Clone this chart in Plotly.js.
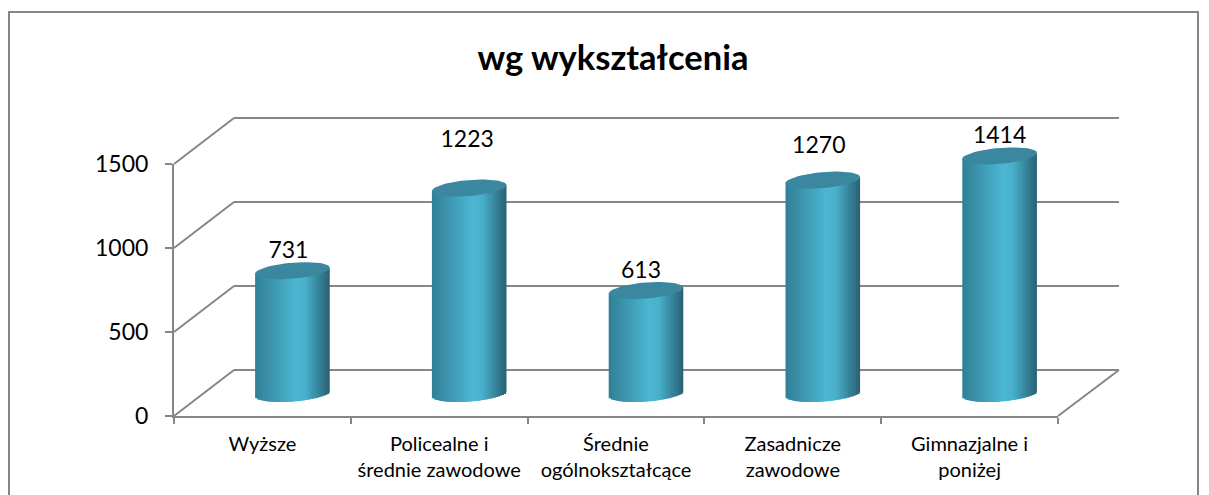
<!DOCTYPE html>
<html><head><meta charset="utf-8">
<script src="https://cdn.plot.ly/plotly-3.0.1.min.js"></script>
<style>html,body{margin:0;padding:0;background:#fff;overflow:hidden}</style>
</head><body><div id="chart" style="width:1209px;height:495px"></div>
<script>
const categories = ["Wyższe","Policealne i<br>średnie zawodowe","Średnie<br>ogólnokształcące","Zasadnicze<br>zawodowe","Gimnazjalne i<br>poniżej"];
const values = [731,1223,613,1270,1414];
const labelShiftPx = [18,47,18.5,33,19];
const labelShiftXPx = [-4,-2,-5,-4,0];
const gridLevels = [0,500,1000,1500];
const chartTitle = "wg wykształcenia";

const W=1209,H=495,GRAY='#868686',FONT='Lato, Carlito, Calibri, sans-serif';
const front={l:174,r:1058,b:416,t:164}, back={l:234,r:1119,b:370,t:118};
const mid={l:204,r:1088,b:393.5};
const K=(front.b-front.t)/1500;            // px per unit
const yLo=-100,yHi=1600;
const dx=v=>v/W, dy=v=>1-v/H;
const stepPx=(mid.r-mid.l)/categories.length;

// cylinder geometry (px)
const A=37.3,B=8,TILT=3,STRIP=2;
const ramp=[[0,[48,130,152]],[0.12,[56,140,164]],[0.3,[64,158,183]],[0.55,[77,182,210]],[0.68,[72,176,203]],[0.85,[55,135,158]],[1,[44,100,118]]];
function colorAt(f){for(let i=1;i<ramp.length;i++){if(f<=ramp[i][0]){const a=ramp[i-1],b=ramp[i],t=(f-a[0])/(b[0]-a[0]);return 'rgb('+a[1].map((c,k)=>Math.round(c+(b[1][k]-c)*t)).join(',')+')';}}return 'rgb(44,100,118)';}

const traces=[];
traces.push({type:'scatter',x:categories,y:values,mode:'none',xaxis:'x',yaxis:'y',showlegend:false,hoverinfo:'skip'});
traces.push({type:'scatter',x:[0],y:[0],mode:'none',xaxis:'x2',yaxis:'y2',showlegend:false,hoverinfo:'skip'});

const n=Math.round(2*A/STRIP);
const idx=categories.map((_,i)=>i);
for(let s=0;s<n;s++){
  const w=2*A/n, pxL=-A+s*w, u=(pxL+w/2)/A;
  const tilt=u*TILT, low=B*Math.sqrt(Math.max(0,1-u*u));
  const basePx=tilt-low;
  const isLast=s===n-1;
  traces.push({type:'bar',x:idx,y:values.map(v=>v+tilt/K-basePx/K),base:values.map(()=>basePx/K),
    width:(isLast?w:w+1.5)/stepPx,offset:pxL/stepPx,marker:{color:colorAt(s/(n-1)),line:{width:0}},
    xaxis:'x3',yaxis:'y3',showlegend:false,hoverinfo:'skip'});
}
values.forEach((v,i)=>{
  const xs=[],ys=[];
  for(let d=0;d<=360;d+=6){const t=d*Math.PI/180,u=Math.cos(t);
    xs.push(i+A*u/stepPx);ys.push(v+(u*TILT+B*Math.sin(t))/K);}
  traces.push({type:'scatter',x:xs,y:ys,mode:'lines',line:{width:0},fill:'toself',fillcolor:'#3b87a0',
    xaxis:'x3',yaxis:'y3',showlegend:false,hoverinfo:'skip'});
});
traces.push({type:'scatter',mode:'text',x:idx.map(i=>i+labelShiftXPx[i]/stepPx),y:values.map((v,i)=>v+labelShiftPx[i]/K),
  text:values.map(String),textposition:'middle center',textfont:{family:FONT,size:23,color:'#000'},cliponaxis:false,
  xaxis:'x3',yaxis:'y3',showlegend:false,hoverinfo:'skip'});

const shapes=[{type:'rect',xref:'paper',yref:'paper',x0:dx(9),x1:dx(1198),y0:dy(12),y1:dy(520),line:{color:GRAY,width:2},fillcolor:'rgba(0,0,0,0)',layer:'below'}];
gridLevels.forEach(v=>{
  shapes.push({type:'line',xref:'paper',yref:'paper',x0:dx(front.l),y0:dy(front.b-v*K),x1:dx(back.l),y1:dy(back.b-v*K),line:{color:GRAY,width:2},layer:'below'});
});
shapes.push({type:'line',xref:'paper',yref:'paper',x0:dx(front.r),y0:dy(front.b),x1:dx(back.r),y1:dy(back.b),line:{color:GRAY,width:2},layer:'below'});

const layout={
  width:W,height:H,margin:{l:0,r:0,t:0,b:0},paper_bgcolor:'#fff',plot_bgcolor:'rgba(0,0,0,0)',barmode:'overlay',showlegend:false,
  title:{text:'<b>'+chartTitle+'</b>',x:613/W,xanchor:'center',y:1-58/H,yanchor:'middle',font:{family:FONT,size:34.5,color:'#000'}},
  xaxis:{type:'category',categoryorder:'array',categoryarray:categories,range:[-0.5,4.5],domain:[dx(front.l),dx(front.r)],anchor:'y',tickson:'boundaries',ticks:'outside',ticklen:6,tickwidth:2,tickcolor:GRAY,
    showline:true,linecolor:GRAY,linewidth:2,showgrid:false,tickfont:{family:FONT,size:20,color:'#000'},tickangle:0,automargin:false,ticklabelstandoff:9},
  yaxis:{domain:[dy(front.b),dy(front.t)],range:[0,1500],anchor:'x',tickvals:gridLevels,ticks:'outside',ticklen:7,tickwidth:2,tickcolor:GRAY,
    showline:true,linecolor:GRAY,linewidth:2,showgrid:false,zeroline:false,tickfont:{family:FONT,size:23,color:'#000'},automargin:false,ticklabelstandoff:12},
  xaxis2:{domain:[dx(back.l),dx(back.r)],range:[0,1],anchor:'y2',showgrid:false,zeroline:false,showline:false,ticks:'',showticklabels:false},
  yaxis2:{domain:[dy(back.b-yLo*K),dy(back.b-yHi*K)],range:[yLo,yHi],anchor:'x2',tickvals:gridLevels,showgrid:true,gridcolor:GRAY,gridwidth:2,zeroline:false,showline:false,ticks:'',showticklabels:false},
  xaxis3:{domain:[dx(mid.l),dx(mid.r)],range:[-0.5,4.5],anchor:'y3',visible:false},
  yaxis3:{domain:[dy(mid.b-yLo*K),dy(mid.b-yHi*K)],range:[yLo,yHi],anchor:'x3',visible:false},
  shapes:shapes
};
Plotly.newPlot('chart',traces,layout,{displayModeBar:false,staticPlot:true});
</script></body></html>
